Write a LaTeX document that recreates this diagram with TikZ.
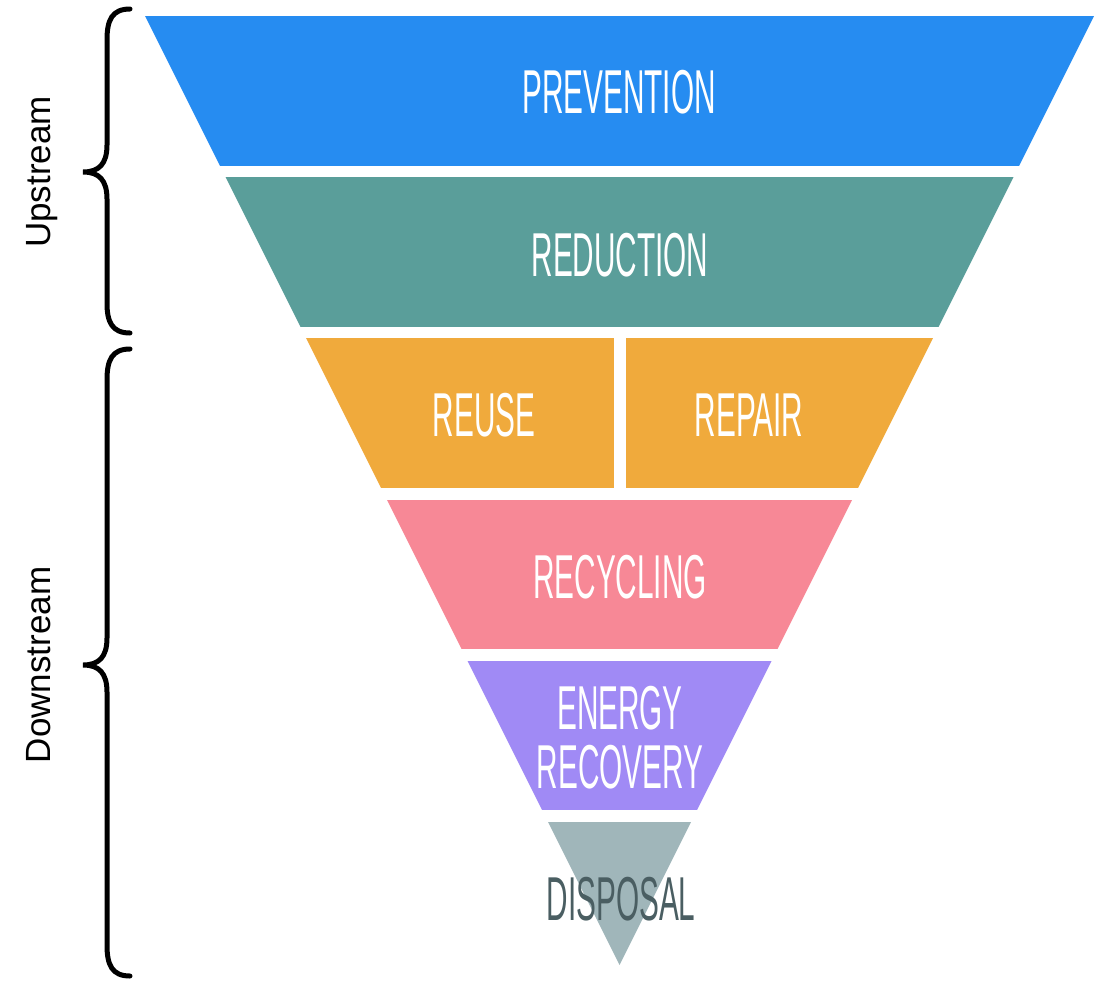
\documentclass[tikz,border=0pt]{standalone}
\usepackage{fontspec}
\setmainfont{Liberation Sans}
\newfontfamily\bandfont[FakeStretch=0.48]{Liberation Sans}
\definecolor{prevblue}{HTML}{268CF1}
\definecolor{redteal}{HTML}{5A9E9A}
\definecolor{reuseorange}{HTML}{F0AA3C}
\definecolor{recpink}{HTML}{F78896}
\definecolor{energypurple}{HTML}{A08AF5}
\definecolor{disgray}{HTML}{A0B6BA}
\definecolor{distext}{HTML}{4A5E62}

\begin{document}
\begin{tikzpicture}[x=0.5pt, y=-0.5pt]
    \tikzset{band/.style = {font=\bandfont\fontsize{31}{29.5}\selectfont, text=white, inner sep=0pt, align=center},
             side/.style = {font=\fontsize{17.5}{20}\selectfont, rotate=90, anchor=base, inner sep=0pt},
             brace/.style = {line width=2.5pt, line cap=round}}
    \useasboundingbox (0,0) rectangle (1102,980);
    \begin{scope}
        \clip (145,16) -- (1094,16) -- (619.5,965) -- cycle;
        \foreach \ytop/\col in {16/prevblue, 177.2/redteal, 338.4/reuseorange, 499.6/recpink, 660.8/energypurple, 822/disgray}
            \fill[\col] (0,\ytop) rectangle (1102,\ytop+149.5);
        \fill[white] (614,330) rectangle (626,500);
    \end{scope}
    \node[band] (prevention) at (619,92) {PREVENTION};
    \node[band] (reduction) at (620,255) {REDUCTION};
    \node[band] (reuse) at (484,415) {REUSE};
    \node[band] (repair) at (749,415) {REPAIR};
    \node[band] (recycling) at (620,577) {RECYCLING};
    \node[band] (energy) at (620,738) {ENERGY\\RECOVERY};
    \node[band, text=distext] (disposal) at (621,899) {DISPOSAL};
    \draw[brace] (130,9) .. controls (112,9) and (107,20) .. (107,40) -- (107,145)
        .. controls (107,164) and (99,172) .. (83,172) .. controls (99,172) and (107,180) .. (107,199)
        -- (107,303) .. controls (107,322) and (112,333) .. (130,333);
    \draw[brace] (130,349) .. controls (112,349) and (107,360) .. (107,380) -- (107,638)
        .. controls (107,657) and (99,665) .. (83,665) .. controls (99,665) and (107,673) .. (107,692)
        -- (107,945) .. controls (107,965) and (112,976) .. (130,976);
    \node[side] (upstream) at (50,172) {Upstream};
    \node[side] (downstream) at (50,665) {Downstream};
\end{tikzpicture}
\end{document}
